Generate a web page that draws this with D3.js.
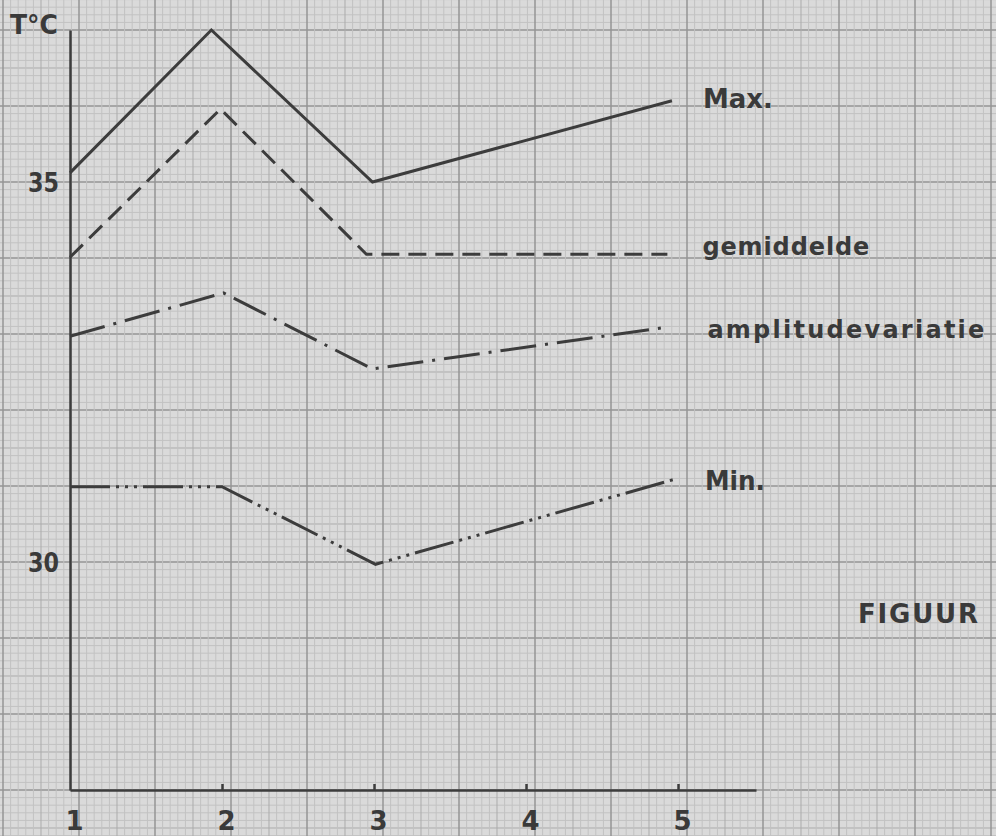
<!DOCTYPE html>
<html>
<head>
<meta charset="utf-8">
<script src="https://cdn.jsdelivr.net/npm/d3@7"></script>
<style>
  html, body { margin: 0; padding: 0; background: #dadada; }
  svg { display: block; }
  text { font-family: "DejaVu Sans", sans-serif; font-weight: bold; fill: #3a3a3a; }
</style>
</head>
<body>
<svg id="chart" width="996" height="836"></svg>
<script>
// ---- data ----
const xTickValues = [1, 2, 3, 4, 5];
const yTickValues = [30, 35];
const yUnitLabel = "T°C";
const seriesNames = ["Max.", "gemiddelde", "amplitudevariatie", "Min."];
const maxX = [1, 1.93, 2.99, 4.96];
const maxY = [35.12, 37.0, 35.0, 36.07];
const gemX = [1, 1.99, 2.95, 4.93];
const gemY = [34.01, 35.96, 34.05, 34.05];
const ampX = [1, 2.01, 2.99, 4.93];
const ampY = [32.97, 33.54, 32.54, 33.09];
const minX = [1, 2.0, 3.01, 4.98];
const minY = [30.99, 30.99, 29.97, 31.09];
const figureLabel = "FIGUUR";

// ---- styles ----
const ink = "#3c3c3c";
const dashes = [null, "18,9", "36,9,3,9", "40,6,3,6,3,6,3,6"];
const labelOffsets = [[31, 7], [35, 1], [40, 11], [30, 11]];
const labelWidths = [70, 167, 277, 60];
const labelSizes = [26, 24, 24, 26];
const labelAdjust = ["spacingAndGlyphs", "spacing", "spacing", "spacingAndGlyphs"];

const svg = d3.select("#chart");
const W = 996, H = 836;

const x = d3.scaleLinear().domain([1, 5.513]).range([70, 756]);
const y = d3.scaleLinear().domain([27, 37]).range([790, 30]);

// ---- graph paper ----
const grid = svg.append("g");
const step = (y(0) - y(0.1)); // 7.6px per mm
const hLines = d3.range(0, Math.ceil(H / step) + 12).map(i => ({ v: 37 - (i - 4) * 0.1, i: i - 4 }));
const gridColor = k => (k % 10 === 0) ? "#949494" : (Math.abs(k % 10) === 5 ? "#ababab" : "#c2c2c2");
grid.selectAll("line.h").data(hLines).join("line")
  .attr("x1", 0).attr("x2", W)
  .attr("y1", d => y(d.v)).attr("y2", d => y(d.v))
  .attr("stroke", d => gridColor(d.i))
  .attr("stroke-width", d => (d.i % 10 === 0) ? 1.5 : 1);
const vLines = d3.range(0, Math.ceil(W / step) + 2).map(i => i);
grid.selectAll("line.v").data(vLines).join("line")
  .attr("x1", i => 3 + i * step).attr("x2", i => 3 + i * step)
  .attr("y1", 0).attr("y2", H)
  .attr("stroke", i => gridColor(i))
  .attr("stroke-width", i => (i % 10 === 0) ? 1.5 : 1);

// ---- axes ----
const xAxis = svg.append("g").attr("transform", `translate(0,${y(27)})`)
  .call(d3.axisBottom(x).tickValues(xTickValues).tickSize(-6).tickSizeOuter(0).tickPadding(0).tickFormat(d3.format("d")));
xAxis.select(".domain").attr("stroke", ink).attr("stroke-width", 2.5);
xAxis.selectAll(".tick line").attr("stroke", ink).attr("stroke-width", 2.5);
xAxis.selectAll(".tick text").attr("y", 40).attr("dy", 0).attr("dx", 4)
  .style("font-size", "26px").attr("fill", ink);
xAxis.selectAll(".tick").filter(d => d === 1).select("line").remove();

const yAxis = svg.append("g").attr("transform", `translate(${x(1)},0)`)
  .call(d3.axisLeft(y).tickValues(yTickValues).tickSize(0).tickSizeOuter(0).tickPadding(10).tickFormat(d3.format("d")));
yAxis.select(".domain").attr("stroke", ink).attr("stroke-width", 2.5);
yAxis.selectAll(".tick text").attr("dy", "0.36em").attr("x", -11)
  .style("font-size", "26px").attr("fill", ink)
  .attr("textLength", 31).attr("lengthAdjust", "spacingAndGlyphs");

svg.append("text").attr("x", 10).attr("y", 34).style("font-size", "26px")
  .attr("textLength", 48).attr("lengthAdjust", "spacingAndGlyphs")
  .text(yUnitLabel);

// ---- series ----
const series = [
  { name: seriesNames[0], xs: maxX, ys: maxY },
  { name: seriesNames[1], xs: gemX, ys: gemY },
  { name: seriesNames[2], xs: ampX, ys: ampY },
  { name: seriesNames[3], xs: minX, ys: minY }
];
const line = d3.line().x(d => x(d[0])).y(d => y(d[1]));

series.forEach((s, i) => {
  const pts = s.xs.map((v, k) => [v, s.ys[k]]);
  svg.append("path").datum(pts)
    .attr("d", line)
    .attr("fill", "none")
    .attr("stroke", ink)
    .attr("stroke-width", 3)
    .attr("stroke-linejoin", "miter")
    .attr("stroke-dasharray", dashes[i]);
  const last = pts[pts.length - 1];
  svg.append("text")
    .attr("x", x(last[0]) + labelOffsets[i][0])
    .attr("y", y(last[1]) + labelOffsets[i][1])
    .style("font-size", labelSizes[i] + "px")
    .attr("textLength", labelWidths[i])
    .attr("lengthAdjust", labelAdjust[i])
    .text(s.name);
});

svg.append("text").attr("x", 858).attr("y", 623).style("font-size", "26px")
  .attr("textLength", 120).attr("lengthAdjust", "spacing")
  .text(figureLabel);
</script>
</body>
</html>
